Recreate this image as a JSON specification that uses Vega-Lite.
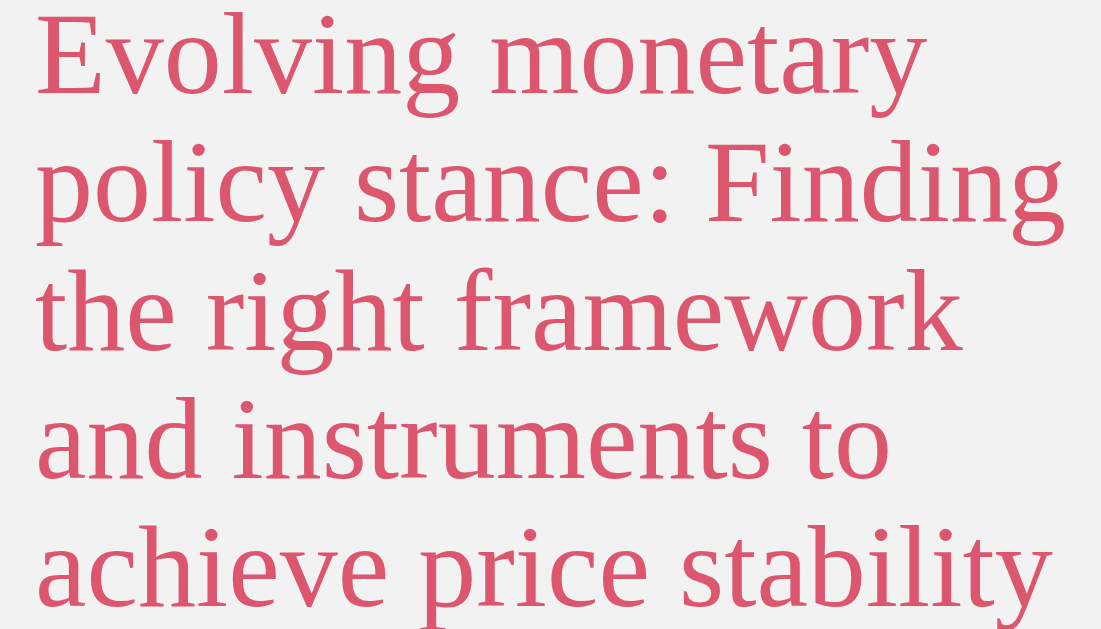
{
  "$schema": "https://vega.github.io/schema/vega-lite/v6.json",
  "width": 1101,
  "height": 629,
  "autosize": {"type": "fit", "contains": "padding"},
  "padding": 0,
  "background": "#F2F2F2",
  "config": {"view": {"stroke": null}},
  "data": {"values": [
    {"line": 0, "text": "Evolving monetary"},
    {"line": 1, "text": "policy stance: Finding"},
    {"line": 2, "text": "the right framework"},
    {"line": 3, "text": "and instruments to"},
    {"line": 4, "text": "achieve price stability"}
  ]},
  "mark": {"type": "text", "font": "Liberation Serif", "fontSize": 116, "align": "left", "baseline": "alphabetic", "color": "#DC566E"},
  "encoding": {
    "x": {"datum": 0, "type": "quantitative", "scale": {"domain": [0, 1], "range": [35, 1101]}, "axis": null},
    "y": {"field": "line", "type": "quantitative", "scale": {"domain": [0, 4], "range": [90, 603]}, "axis": null},
    "text": {"field": "text"}
  }
}
